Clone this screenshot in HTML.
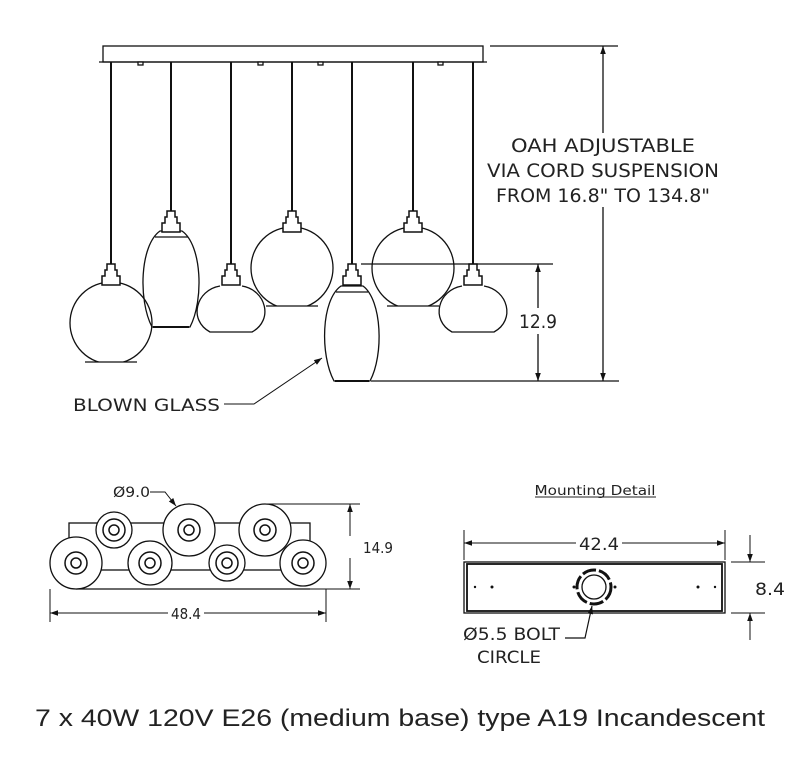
<!DOCTYPE html>
<html><head><meta charset="utf-8"><style>
html,body{margin:0;padding:0;background:#fff;}
svg{display:block}
text{font-family:"DejaVu Sans","Liberation Sans",sans-serif;fill:#222}
</style></head><body>
<svg width="800" height="779" viewBox="0 0 800 779" xmlns="http://www.w3.org/2000/svg">
<defs>
<marker id="a" viewBox="0 0 10 10" refX="10" refY="5" markerWidth="10" markerHeight="8" orient="auto-start-reverse" markerUnits="userSpaceOnUse"><path d="M0,1.5 L10,5 L0,8.5 z" fill="#111"/></marker>
<clipPath id="c1"><rect x="0" y="0" width="800" height="362"/></clipPath>
<clipPath id="c2"><rect x="0" y="0" width="800" height="306"/></clipPath>
</defs>
<g stroke="#111" fill="none" stroke-width="1.3">
<rect x="103" y="46" width="380" height="16" fill="#fff"/>
<line x1="99" y1="62" x2="487" y2="62"/>
<g fill="#fff">
<rect x="138" y="62" width="5" height="3"/><rect x="258" y="62" width="5" height="3"/><rect x="318" y="62" width="5" height="3"/><rect x="438" y="62" width="5" height="3"/>
</g>
<g stroke-width="2">
<line x1="111" y1="62" x2="111" y2="265"/><line x1="171" y1="62" x2="171" y2="212"/>
<line x1="231" y1="62" x2="231" y2="265"/><line x1="292" y1="62" x2="292" y2="212"/>
<line x1="352" y1="62" x2="352" y2="265"/><line x1="413" y1="62" x2="413" y2="212"/>
<line x1="473" y1="62" x2="473" y2="265"/>
</g>
<circle cx="111" cy="323" r="41" clip-path="url(#c1)"/>
<line x1="85" y1="362" x2="137" y2="362"/>
<circle cx="292" cy="268" r="41" clip-path="url(#c2)"/>
<line x1="266" y1="306" x2="318" y2="306"/>
<circle cx="413" cy="268" r="41" clip-path="url(#c2)"/>
<line x1="387" y1="306" x2="439" y2="306"/>
<path d="M160,231 C140,245 138,300 152,327 H190 C204,300 202,245 182,231 Z"/>
<line x1="155" y1="237" x2="188" y2="237"/>
<line x1="153" y1="327" x2="189" y2="327" stroke-width="2"/>
<path d="M220,286 C196,290 188,320 210,332 H252 C274,320 266,290 242,286"/>
<path d="M341,286 C321,300 320,355 334,381 H370 C384,355 382,300 363,286 Z" fill="#fff"/>
<line x1="336" y1="292" x2="368" y2="292"/>
<line x1="335" y1="381" x2="369" y2="381" stroke-width="2"/>
<path d="M462,286 C438,290 430,320 452,332 H494 C516,320 508,290 484,286" fill="#fff"/>
<g fill="#fff" stroke-width="1.5">
<path d="M107,264 h8 v6 h2 v6 h3 v9 h-18 v-9 h3 v-6 h2z"/>
<path d="M167,211 h8 v6 h2 v6 h3 v9 h-18 v-9 h3 v-6 h2z"/>
<path d="M227,264 h8 v6 h2 v6 h3 v9 h-18 v-9 h3 v-6 h2z"/>
<path d="M288,211 h8 v6 h2 v6 h3 v9 h-18 v-9 h3 v-6 h2z"/>
<path d="M348,264 h8 v6 h2 v6 h3 v9 h-18 v-9 h3 v-6 h2z"/>
<path d="M409,211 h8 v6 h2 v6 h3 v9 h-18 v-9 h3 v-6 h2z"/>
<path d="M469,264 h8 v6 h2 v6 h3 v9 h-18 v-9 h3 v-6 h2z"/>
</g>
<line x1="490" y1="46" x2="618" y2="46"/>
<line x1="371" y1="381" x2="619" y2="381"/>
<line x1="361" y1="264" x2="553" y2="264"/>
<line x1="603" y1="46" x2="603" y2="133" marker-start="url(#a)"/>
<line x1="603" y1="207" x2="603" y2="381" marker-end="url(#a)"/>
<line x1="538" y1="264" x2="538" y2="308" marker-start="url(#a)"/>
<line x1="538" y1="334" x2="538" y2="381" marker-end="url(#a)"/>
<polyline points="224,404 254,404 322,358" marker-end="url(#a)" stroke-width="1"/>
<rect x="69" y="523" width="241" height="47"/>
<line x1="76" y1="589" x2="310" y2="589"/>
<line x1="265" y1="504" x2="360" y2="504" stroke-width="1"/>
<line x1="303" y1="589" x2="360" y2="589" stroke-width="1"/>
<line x1="350" y1="504" x2="350" y2="536" marker-start="url(#a)" stroke-width="1"/>
<line x1="350" y1="558" x2="350" y2="589" marker-end="url(#a)" stroke-width="1"/>
<line x1="50" y1="589" x2="50" y2="622" stroke-width="1"/>
<line x1="326" y1="589" x2="326" y2="622" stroke-width="1"/>
<line x1="50" y1="613" x2="168" y2="613" marker-start="url(#a)" stroke-width="1"/>
<line x1="204" y1="613" x2="326" y2="613" marker-end="url(#a)" stroke-width="1"/>
<polyline points="150,492 165,492 176,506" marker-end="url(#a)" stroke-width="1"/>
<g fill="#fff">
<circle cx="114" cy="530" r="18"/><circle cx="189" cy="530" r="26"/><circle cx="265" cy="530" r="26"/>
<circle cx="76" cy="563" r="26"/><circle cx="150" cy="563" r="22"/><circle cx="227" cy="563" r="18"/><circle cx="303" cy="563" r="23"/>
</g>
<g stroke-width="1.5">
<circle cx="114" cy="530" r="11"/><circle cx="189" cy="530" r="11"/><circle cx="265" cy="530" r="11"/>
<circle cx="76" cy="563" r="11"/><circle cx="150" cy="563" r="11"/><circle cx="227" cy="563" r="11"/><circle cx="303" cy="563" r="11"/>
<circle cx="114" cy="530" r="5"/><circle cx="189" cy="530" r="5"/><circle cx="265" cy="530" r="5"/>
<circle cx="76" cy="563" r="5"/><circle cx="150" cy="563" r="5"/><circle cx="227" cy="563" r="5"/><circle cx="303" cy="563" r="5"/>
</g>
<rect x="464" y="562" width="261" height="51"/>
<rect x="467" y="564" width="255" height="47" stroke-width="1.8"/>
<circle cx="594" cy="587" r="17" stroke-width="3" stroke-dasharray="14 3"/>
<circle cx="594" cy="587" r="12"/>
<line x1="464" y1="530" x2="464" y2="560" stroke-width="1"/>
<line x1="725" y1="530" x2="725" y2="560" stroke-width="1"/>
<line x1="464" y1="543" x2="576" y2="543" marker-start="url(#a)" stroke-width="1"/>
<line x1="622" y1="543" x2="725" y2="543" marker-end="url(#a)" stroke-width="1"/>
<line x1="731" y1="562" x2="765" y2="562" stroke-width="1"/>
<line x1="731" y1="613" x2="765" y2="613" stroke-width="1"/>
<line x1="750" y1="535" x2="750" y2="562" marker-end="url(#a)" stroke-width="1"/>
<line x1="750" y1="640" x2="750" y2="613" marker-end="url(#a)" stroke-width="1"/>
<polyline points="565,638 585,638 592,606" marker-end="url(#a)" stroke-width="1.2"/>
</g>
<g fill="#111">
<circle cx="475" cy="587" r="1.2"/><circle cx="492" cy="587" r="1.5"/><circle cx="574" cy="587" r="1.5"/><circle cx="615" cy="587" r="1.5"/><circle cx="698" cy="587" r="1.5"/><circle cx="715" cy="587" r="1.2"/>
</g>
<g font-size="19" text-anchor="middle">
<text x="603" y="152" textLength="184" lengthAdjust="spacingAndGlyphs">OAH ADJUSTABLE</text>
<text x="603" y="177" textLength="232" lengthAdjust="spacingAndGlyphs">VIA CORD SUSPENSION</text>
<text x="603" y="202" textLength="214" lengthAdjust="spacingAndGlyphs">FROM 16.8" TO 134.8"</text>
<text x="538" y="328" textLength="38" lengthAdjust="spacingAndGlyphs">12.9</text>
</g>
<text x="73" y="411" font-size="17" textLength="147" lengthAdjust="spacingAndGlyphs">BLOWN GLASS</text>
<text x="113" y="497" font-size="14" textLength="37" lengthAdjust="spacingAndGlyphs">Ø9.0</text>
<text x="363" y="553" font-size="15" textLength="30" lengthAdjust="spacingAndGlyphs">14.9</text>
<text x="186" y="619" font-size="15" textLength="30" lengthAdjust="spacingAndGlyphs" text-anchor="middle">48.4</text>
<text x="595" y="495" font-size="13" textLength="121" lengthAdjust="spacingAndGlyphs" text-anchor="middle">Mounting Detail</text>
<line x1="535" y1="497" x2="656" y2="497" stroke="#222" stroke-width="1"/>
<text x="599" y="550" font-size="17" textLength="40" lengthAdjust="spacingAndGlyphs" text-anchor="middle">42.4</text>
<text x="755" y="595" font-size="17" textLength="30" lengthAdjust="spacingAndGlyphs">8.4</text>
<text x="463" y="640" font-size="17" textLength="97" lengthAdjust="spacingAndGlyphs">Ø5.5 BOLT</text>
<text x="477" y="663" font-size="17" textLength="64" lengthAdjust="spacingAndGlyphs">CIRCLE</text>
<text x="35" y="726" font-size="24" textLength="730" lengthAdjust="spacingAndGlyphs" style="font-family:'Liberation Sans',sans-serif">7 x 40W 120V E26 (medium base) type A19 Incandescent</text>
</svg>
</body></html>
